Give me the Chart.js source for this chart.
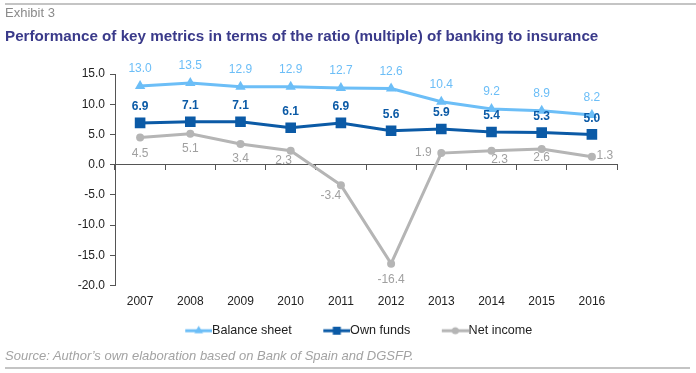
<!DOCTYPE html>
<html>
<head>
<meta charset="utf-8">
<script src="https://cdn.jsdelivr.net/npm/chart.js@4.4.1/dist/chart.umd.min.js"></script>
<style>
  html, body { margin: 0; padding: 0; background: #fff; }
  body { width: 696px; height: 373px; position: relative; overflow: hidden; font-family: "Liberation Sans", Arial, sans-serif; }
  #wrap { position: absolute; left: 0; top: 0; width: 696px; height: 373px; }
  .rule { position: absolute; left: 5px; height: 0; border-top: 2px solid #c4c4c4; }
  #exhibit { position: absolute; left: 5px; top: 5px; font-size: 13px; color: #8a8a8a; line-height: 16px; }
  #title { position: absolute; left: 5px; top: 27px; font-size: 15.2px; font-weight: bold; color: #3a3a8a; line-height: 18px; white-space: nowrap; }
  #source { position: absolute; left: 5px; top: 348px; font-size: 13px; font-style: italic; color: #a3a3a3; line-height: 16px; white-space: nowrap; }
</style>
</head>
<body>
<div id="wrap"><canvas id="c" width="696" height="373"></canvas></div>
<div class="rule" style="top:3px; width:691px;"></div>
<div id="exhibit">Exhibit 3</div>
<div id="title">Performance of key metrics in terms of the ratio (multiple) of banking to insurance</div>
<div id="source">Source: Author’s own elaboration based on Bank of Spain and DGSFP.</div>
<div class="rule" style="top:367px; width:685px;"></div>
<script>
// ---- data ----
const categories = ['2007','2008','2009','2010','2011','2012','2013','2014','2015','2016'];
const balanceSheet = [13.0, 13.5, 12.9, 12.9, 12.7, 12.6, 10.4, 9.2, 8.9, 8.2];
const ownFunds     = [6.9, 7.1, 7.1, 6.1, 6.9, 5.6, 5.9, 5.4, 5.3, 5.0];
const netIncome    = [4.5, 5.1, 3.4, 2.3, -3.4, -16.4, 1.9, 2.3, 2.6, 1.3];
const seriesNames  = ['Balance sheet', 'Own funds', 'Net income'];
const yTicks       = [-20, -15, -10, -5, 0, 5, 10, 15];

// ---- styles ----
const FONT = '"Liberation Sans", Arial, sans-serif';
const C_BAL = '#6cbef7', C_OWN = '#0b5aa6', C_NET = '#b5b5b5', C_NET_LBL = '#a0a0a0';
const AXIS = '#555555';
const NET_LABEL_OFFSETS = [[0,16],[0,15],[0,15],[-7,10],[-10,11],[0,16],[-18,0],[8,9],[0,9],[13,-1]];
const ICON_BOX = 42, ICON_W = 55, ICON_LINE = 27;

function makeIcon(color, style, r) {
  const cv = document.createElement('canvas');
  cv.width = ICON_W; cv.height = 12;
  const g = cv.getContext('2d');
  const x0 = ICON_W - ICON_LINE, cx = x0 + ICON_LINE / 2;
  g.strokeStyle = color; g.fillStyle = color; g.lineWidth = 3;
  g.beginPath(); g.moveTo(x0, 6); g.lineTo(ICON_W, 6); g.stroke();
  g.beginPath();
  if (style === 'triangle') {
    g.moveTo(cx, 6 - r); g.lineTo(cx + r * 0.866, 6 + r * 0.5); g.lineTo(cx - r * 0.866, 6 + r * 0.5); g.closePath();
  } else if (style === 'rect') {
    g.rect(cx - r, 6 - r, 2 * r, 2 * r);
  } else {
    g.arc(cx, 6, r, 0, Math.PI * 2);
  }
  g.fill();
  return cv;
}
const icons = [makeIcon(C_BAL, 'triangle', 5), makeIcon(C_OWN, 'rect', 4), makeIcon(C_NET, 'circle', 3.5)];

const labelPlugin = {
  id: 'pointLabels',
  afterDatasetsDraw(chart) {
    const ctx = chart.ctx;
    ctx.save();
    ctx.textAlign = 'center';
    ctx.textBaseline = 'middle';
    chart.data.datasets.forEach((ds, i) => {
      const meta = chart.getDatasetMeta(i);
      meta.data.forEach((pt, j) => {
        const v = ds.data[j];
        let dx = 0, dy = -17;
        if (i === 1) dy = -16;
        if (i === 2) { dx = NET_LABEL_OFFSETS[j][0]; dy = NET_LABEL_OFFSETS[j][1]; }
        ctx.font = (i === 1 ? 'bold ' : '') + '12px ' + FONT;
        ctx.fillStyle = i === 0 ? C_BAL : (i === 1 ? C_OWN : C_NET_LBL);
        ctx.fillText(v.toFixed(1), pt.x + dx, pt.y + dy);
      });
    });
    ctx.restore();
  }
};

new Chart(document.getElementById('c'), {
  type: 'line',
  data: {
    labels: categories,
    datasets: [
      { label: seriesNames[0], data: balanceSheet, borderColor: C_BAL, backgroundColor: C_BAL, borderWidth: 3,
        pointStyle: 'triangle', pointRadius: 6, pointBorderWidth: 0, xAxisID: 'x', yAxisID: 'y' },
      { label: seriesNames[1], data: ownFunds, borderColor: C_OWN, backgroundColor: C_OWN, borderWidth: 3,
        pointStyle: 'rect', pointRadius: 7.5, pointBorderWidth: 0, xAxisID: 'x', yAxisID: 'y' },
      { label: seriesNames[2], data: netIncome, borderColor: C_NET, backgroundColor: C_NET, borderWidth: 3,
        pointStyle: 'circle', pointRadius: 4, pointBorderWidth: 0, xAxisID: 'x', yAxisID: 'y' }
    ]
  },
  options: {
    responsive: false,
    animation: false,
    events: [],
    layout: { padding: { left: 0, right: 0, top: 74, bottom: 26 } },
    plugins: {
      title: { display: false },
      tooltip: { enabled: false },
      legend: {
        display: true,
        position: 'bottom',
        labels: {
          usePointStyle: true,
          pointStyleWidth: ICON_BOX,
          boxHeight: 12,
          padding: 10,
          color: '#222',
          font: { family: FONT, size: 12.6 },
          generateLabels(chart) {
            return chart.data.datasets.map((ds, i) => ({
              text: ds.label, pointStyle: icons[i], fillStyle: ds.borderColor,
              strokeStyle: ds.borderColor, lineWidth: 0, hidden: false, datasetIndex: i, fontColor: '#222'
            }));
          }
        }
      }
    },
    scales: {
      x: {
        type: 'category',
        position: { y: 0 },
        offset: true,
        grid: { display: true, offset: true, drawOnChartArea: false, drawTicks: true, tickLength: 5, tickColor: AXIS, tickWidth: 1 },
        border: { display: true, color: AXIS, width: 1 },
        ticks: { display: false }
      },
      x2: {
        type: 'category',
        position: 'bottom',
        offset: true,
        grid: { display: false, drawTicks: false },
        border: { display: false },
        ticks: { color: '#222', font: { family: FONT, size: 12 }, padding: 9, maxRotation: 0, autoSkip: false },
        afterFit(s) { s.height = 29; }
      },
      y: {
        type: 'linear',
        position: 'left',
        min: -20, max: 15,
        afterBuildTicks(s) { s.ticks = yTicks.map(v => ({ value: v })); },
        grid: { display: true, drawOnChartArea: false, drawTicks: true, tickLength: 5, tickColor: AXIS },
        border: { display: true, color: AXIS, width: 1 },
        ticks: { color: '#222', font: { family: FONT, size: 12 }, padding: 5, callback: v => Number(v).toFixed(1) },
        afterFit(s) { s.width = 115; }
      },
      yR: {
        type: 'linear',
        position: 'right',
        display: true,
        grid: { display: false },
        border: { display: false },
        ticks: { display: false },
        afterFit(s) { s.width = 79; }
      }
    }
  },
  plugins: [labelPlugin]
});
</script>
</body>
</html>
